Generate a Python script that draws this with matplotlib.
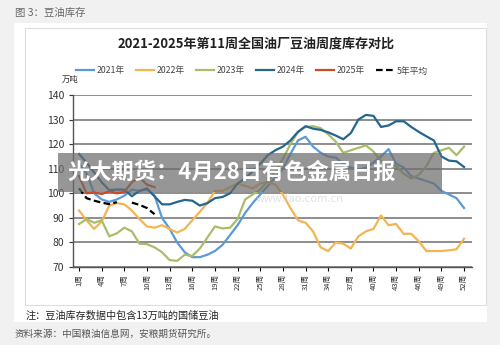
import numpy as np
import matplotlib
matplotlib.use("Agg")
import matplotlib.pyplot as plt
from matplotlib.patches import Rectangle

plt.rcParams['font.family'] = ['Noto Sans CJK SC', 'DejaVu Sans']

weeks = list(range(1, 53))
s2021 = [112, 108, 100, 97.5, 96.5, 97.5, 99, 101.5, 101, 101.5, 99, 90, 85.5, 80, 76, 74, 74, 75,
         76.5, 79, 83, 87, 92, 96, 99.5, 103, 106.5, 110, 116, 121.5, 123, 119, 116.5, 115, 114.5,
         112, 110.5, 109.5, 110.5, 112.5, 115, 118, 112, 110.5, 107, 106, 105, 104, 101, 99.5, 98, 94]
s2022 = [93, 89, 85.5, 88.5, 95, 96, 95.5, 93, 89.5, 86.5, 86, 87, 85.5, 84, 85.5, 89, 92.5, 96,
         101, 101, 102.5, 104, 103, 102, 104, 104.5, 103.5, 99.5, 94, 89, 88, 84.5, 78, 76.5, 80,
         79.5, 77.5, 82.5, 84.5, 85.5, 91, 87, 87.5, 83.5, 83.5, 80.5, 76.5, 76.5, 76.5, 76.8, 77.2, 81.5]
s2023 = [87.5, 89.5, 88, 89, 82.5, 83.7, 86, 84.5, 79.5, 79.3, 78, 76, 72.8, 72.5, 75, 74.5, 77.5, 82,
         86.5, 85.7, 86, 89.5, 97.5, 99.5, 101.5, 105, 109, 114, 120, 125, 127, 127.3, 126.5, 124, 121,
         116.5, 117.5, 118.5, 119.5, 117, 113, 112.5, 111, 108, 106, 107.5, 111, 116.5, 117.5, 118.5, 115.5, 119]
s2024 = [116, 112.5, 108.5, 104.5, 101.3, 101.5, 101.5, 98.8, 101, 102, 98.8, 95.5, 95.5, 96.5, 97.3,
         97, 95, 96, 98, 98.5, 100, 104, 106, 109, 112, 115.5, 117.5, 119, 121.5, 125, 127.3, 126.3,
         125.8, 124.8, 123.5, 122, 124.5, 130, 131.9, 131.5, 127, 127.6, 129.3, 129.3, 127, 125, 123.2,
         121.5, 115, 113.3, 113, 110.7]
s2025 = [107, 100, 100.3, 99.7, 100.8, 100, 100.5, 104.5, 106.5, 103.5, 102.5]
avg5 = [102, 98, 97, 96.2, 95.6, 96.4, np.nan, 96.2, 95.3, 94, 91.5]

series = [("2021年", s2021), ("2022年", s2022), ("2023年", s2023), ("2024年", s2024), ("2025年", s2025)]
colors = ["#5b9bd5", "#f2b552", "#a9bd6a", "#24668f", "#cc4a26"]

tick_weeks = list(range(1, 53, 3))
tick_labels = [f"{w}周" for w in tick_weeks]
yticks = [70, 80, 90, 100, 110, 120, 130, 140]

W, H = 500, 345
fig = plt.figure(figsize=(5, 3.45), dpi=100)
fig.patch.set_facecolor("#f1f1f1")

def fx(x): return x / W
def fy(y): return 1 - y / H

# white card
fig.patches.append(Rectangle((fx(14), fy(322)), fx(487) - fx(14), fy(23) - fy(322),
                             transform=fig.transFigure, facecolor="white", edgecolor="none", zorder=-2))
fig.patches.append(Rectangle((fx(25), fy(305)), fx(486) - fx(25), fy(28) - fy(305),
                             transform=fig.transFigure, facecolor="white", edgecolor="#dddddd",
                             linewidth=0.8, zorder=-1))

ax = fig.add_axes([fx(73), fy(267), fx(472) - fx(73), fy(95) - fy(267)])
ax.set_facecolor("white")
for (name, vals), c in zip(series, colors):
    ax.plot(weeks[:len(vals)], vals, color=c, lw=1.6, label=name, zorder=3)
ax.plot(weeks[:len(avg5)], avg5, color="black", lw=1.6, ls=(0, (3, 1.5)), label="5年平均", zorder=4)

ax.set_xlim(0.2, 53.05)
ax.set_ylim(70, 140)
ax.set_yticks(yticks)
ax.set_xticks(tick_weeks)
ax.set_xticklabels(tick_labels, rotation=90, fontsize=5.5, color="#333333")
ax.tick_params(axis='y', labelsize=7.5, colors="#333333", length=3, width=0.8)
ax.tick_params(axis='x', length=3, width=0.8, pad=2)
ax.grid(axis='y', color="#858585", lw=1.3, zorder=1)
ax.set_axisbelow(True)
for s in ["top", "right"]:
    ax.spines[s].set_visible(False)
for s in ["left", "bottom"]:
    ax.spines[s].set_color("#555555")
    ax.spines[s].set_linewidth(1.0)

# title and unit
fig.text(fx(256), fy(44), "2021-2025年第11周全国油厂豆油周度库存对比", ha="center", va="center",
         fontsize=9.4, fontweight="bold", color="#222222")
fig.text(fx(62), fy(79), "万吨", ha="left", va="center", fontsize=6, color="#333333")

leg = fig.legend(loc="center left", bbox_to_anchor=(fx(76), fy(71)), ncol=6, frameon=False,
                 fontsize=6.3, handlelength=2.0, columnspacing=1.35, handletextpad=0.3,
                 borderpad=0, borderaxespad=0)
for t in leg.get_texts():
    t.set_color("#444444")

# header and notes
fig.text(fx(15), fy(13), "图 3：豆油库存", ha="left", va="center", fontsize=7.5, color="#666666")
fig.text(fx(26), fy(316), "注：豆油库存数据中包含13万吨的国储豆油", ha="left", va="center",
         fontsize=7.3, color="#222222")
fig.text(fx(15), fy(334), "资料来源：中国粮油信息网，安粮期货研究所。", ha="left", va="center",
         fontsize=6.9, color="#555555")

# overlay banner
fig.patches.append(Rectangle((fx(58), fy(192)), fx(442) - fx(58), fy(153) - fy(192),
                             transform=fig.transFigure, facecolor="#6e6e6e", alpha=0.72,
                             edgecolor="none", zorder=10))
fig.text(fx(67), fy(172), "光大期货：4月28日有色金属日报", ha="left", va="center",
         fontsize=16, fontweight="bold", color="white", zorder=11)
fig.text(fx(300), fy(199), "www.fao.com.cn", ha="center", va="center", fontsize=8,
         color="#cccccc", alpha=0.6, zorder=11)

fig.savefig("out.png", dpi=100, facecolor=fig.get_facecolor())
